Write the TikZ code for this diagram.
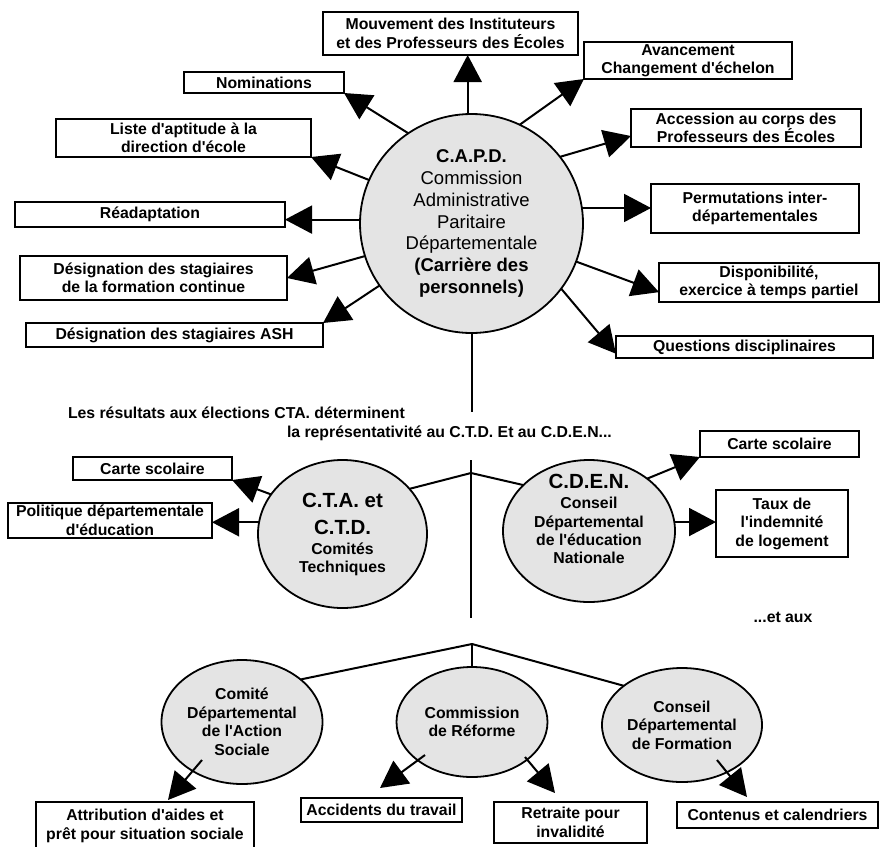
\documentclass[tikz,border=0pt]{standalone}
\usepackage{fontspec}
\setmainfont{Liberation Sans}[Ligatures=TeXOff]
\usetikzlibrary{arrows.meta,shapes.geometric,calc}
\definecolor{bubblefill}{RGB}{228,228,228}
\begin{document}
\begin{tikzpicture}[x=1pt,y=-1pt,
  every node/.style={inner sep=0pt, outer sep=0pt},
  infobox/.style args={#1x#2}{draw, line width=1.2pt, fill=white, align=center,
    font=\bfseries\fontsize{15.8}{18.5}\selectfont, minimum width=#1pt, minimum height=#2pt},
  bubble/.style args={#1x#2}{ellipse, draw, line width=1.8pt, fill=bubblefill, align=center,
    font=\bfseries\fontsize{15.8}{18.5}\selectfont,
    minimum width=#1pt, minimum height=#2pt},
  txt/.style={align=center, font=\bfseries\fontsize{15.8}{18.5}\selectfont},
  arr/.style={line width=2pt, -{Triangle[length=27pt,width=28pt]}},
  link/.style={line width=2pt}
]
\useasboundingbox (0,0) rectangle (880,846);

% ---- C.A.P.D.
\node[bubble=223x219, font=\bfseries\fontsize{18.5}{21.7}\selectfont] (capd) at (471.5,223.5) {%
  C.A.P.D.\\
  \mdseries Commission\\
  \mdseries Administrative\\
  \mdseries Paritaire\\
  \mdseries Départementale\\
  (Carrière des\\
  personnels)};

\node[infobox=255x43] (mouv) at (450.5,33.5) {Mouvement des Instituteurs\\et des Professeurs des Écoles};
\node[infobox=160x21] (nomin) at (264,82.5) {Nominations};
\node[infobox=255x38] (liste) at (183.5,138) {Liste d'aptitude à la\\direction d'école};
\node[infobox=270x25] (readapt) at (150,214.5) {Réadaptation};
\node[infobox=267x44] (desig) at (153.5,278) {Désignation des stagiaires\\de la formation continue};
\node[infobox=297x24] (ash) at (174.5,335) {Désignation des stagiaires ASH};
\node[infobox=208x37] (avanc) at (688,60.5) {Avancement\\Changement d'échelon};
\node[infobox=230x38] (access) at (746,128) {Accession au corps des\\Professeurs des Écoles};
\node[infobox=208x49] (permut) at (755,208.5) {Permutations inter-\\départementales};
\node[infobox=220x39] (dispo) at (769,282.5) {Disponibilité,\\exercice à temps partiel};
\node[infobox=257x22] (quest) at (744.5,347) {Questions disciplinaires};

\draw[arr] (capd.92) -- (capd.92 |- mouv.south);
\draw[arr] (capd.125) -- (nomin.south east);
\draw[arr] (capd.157.4) -- (liste.south east);
\draw[arr] (capd.178) -- (capd.178 -| readapt.east);
\draw[arr] (capd.197.5) -- (desig.east);
\draw[arr] (capd.214.6) -- (ash.north east);
\draw[arr] (capd.64.5) -- (avanc.south west);
\draw[arr] (capd.37.5) -- (access.184);
\draw[arr] (capd.8) -- (capd.8 -| permut.west);
\draw[arr] (capd.-20) -- (dispo.185);
\draw[arr] (capd.-36.8) -- (quest.183);

% ---- middle text and trunk
\coordinate (t1) at (471.5,412);
\draw[link] (capd.south) -- (t1);
\node[anchor=west, align=left, font=\bfseries\fontsize{15.8}{18.5}\selectfont] (res) at (68,424)
  {Les résultats aux élections CTA. déterminent\\\hspace*{219pt}la représentativité au C.T.D. Et au C.D.E.N...};

\coordinate (t2) at (471,460);
\coordinate (j1) at (471,473);
\coordinate (t3) at (471,618);
\draw[link] (t2) -- (t3);

% ---- C.T.A. et C.T.D.
\node[bubble=169x148, font=\bfseries\fontsize{15.8}{18}\selectfont] (cta) at (342.5,534) {%
  \fontsize{20.5}{18}\selectfont C.T.A. et\\[9pt]
  \fontsize{20.5}{18}\selectfont C.T.D.\\[2pt]
  Comités\\
  Techniques};

% ---- C.D.E.N.
\node[bubble=172x142] (cden) at (589,531) {};
\node[txt, font=\bfseries\fontsize{15.8}{18.4}\selectfont] (cdent) at (589,519) {%
  \fontsize{20.5}{18.4}\selectfont C.D.E.N.\\[2pt]
  Conseil\\
  Départemental\\
  de l'éducation\\
  Nationale};

\draw[link] (j1) -- (cta.34.5);
\draw[link] (j1) -- (cden.145.9);

\node[infobox=159x23] (carte1) at (152.5,468.5) {Carte scolaire};
\node[infobox=204x35] (polit) at (110,520.5) {Politique départementale\\d'éducation};
\node[infobox=159x26] (carte2) at (779.5,444) {Carte scolaire};
\node[infobox=132x67] (taux) at (782,523.5) {Taux de\\l'indemnité\\de logement};

\draw[arr] (cta.151.9) -- (carte1.south east);
\draw[arr] (cta.172.6) -- (cta.172.6 -| polit.east);
\draw[arr] (cden.42.5) -- (carte2.south west);
\draw[arr] (cden.6) -- (cden.6 -| taux.west);

\node[txt] (etaux) at (783,617) {...et aux};

% ---- bottom level
\coordinate (j2) at (472,644);
\node[bubble=161x124] (cdas) at (242,722) {Comité\\Départemental\\de l'Action\\Sociale};
\node[bubble=151x110] (crefo) at (472,722) {Commission\\de Réforme};
\node[bubble=160x114] (cdf) at (682,725) {Conseil\\Départemental\\de Formation};

\draw[link] (j2) -- (cdas.36.9);
\draw[link] (j2) -- (crefo.north);
\draw[link] (j2) -- (cdf.146.1);

\node[infobox=218x48] (attrib) at (145,826) {Attribution d'aides et\\prêt pour situation sociale};
\node[infobox=161x24] (accid) at (381.5,810) {Accidents du travail};
\node[infobox=153x41] (retr) at (570.5,822.5) {Retraite pour\\invalidité};
\node[infobox=201x26] (conten) at (777.5,815) {Contenus et calendriers};

\draw[arr] ($(cdas.center)+(-40,38)$) -- ($(attrib.north)+(23,-2)$);
\draw[arr] ($(crefo.center)+(-47,33)$) -- ($(accid.north)+(-1.5,-10)$);
\draw[arr] ($(crefo.center)+(53,35)$) -- ($(retr.north)+(-15.5,-9)$);
\draw[arr] ($(cdf.center)+(35,35)$) -- ($(conten.north)+(-30.5,-5)$);
\end{tikzpicture}
\end{document}
